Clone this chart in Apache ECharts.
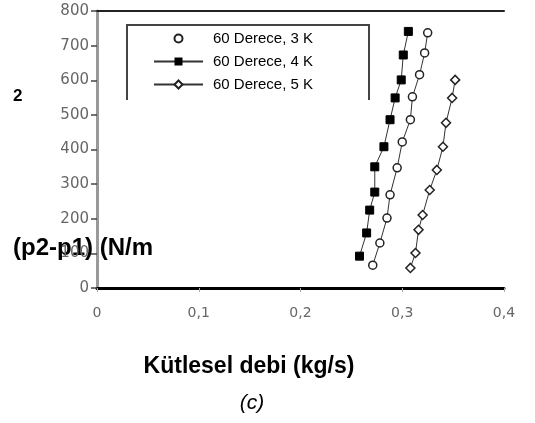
<!DOCTYPE html>
<html>
<head>
<meta charset="utf-8">
<script src="https://cdn.jsdelivr.net/npm/echarts@6/dist/echarts.min.js"></script>
<style>
  html, body { margin: 0; padding: 0; background: #fff; }
  #chart { width: 535px; height: 423px; }
</style>
</head>
<body>
<div id="chart"></div>
<script>
// values: [mass flow kg/s, pressure drop N/m2]
var seriesNames = ['60 Derece, 3 K', '60 Derece, 4 K', '60 Derece, 5 K'];

var data3K = [
    [0.271, 66], [0.278, 130], [0.285, 202], [0.288, 269], [0.295, 347],
    [0.300, 422], [0.308, 486], [0.310, 552], [0.317, 616], [0.322, 679], [0.325, 737]
];
var data4K = [
    [0.258, 92], [0.265, 159], [0.268, 225], [0.273, 277], [0.273, 350],
    [0.282, 408], [0.288, 486], [0.293, 549], [0.299, 601], [0.301, 673], [0.306, 741]
];
var data5K = [
    [0.308, 58], [0.313, 101], [0.316, 168], [0.320, 211], [0.327, 283],
    [0.334, 341], [0.340, 408], [0.343, 477], [0.349, 549], [0.352, 601]
];

var xTicks = { min: 0, max: 0.4, step: 0.1 };
var yTicks = { min: 0, max: 800, step: 100 };

var chart = echarts.init(document.getElementById('chart'));

var lineStyle = { color: '#333', width: 1 };
var labelFont = 'DejaVu Sans';

chart.setOption({
    backgroundColor: '#fff',
    animation: false,
    grid: { left: 97, right: 31, top: 11, bottom: 135 },
    legend: {
        orient: 'vertical',
        left: 148,
        top: 26,
        itemWidth: 49,
        itemHeight: 10,
        itemGap: 8,
        textStyle: { fontFamily: 'Liberation Sans', fontSize: 15, lineHeight: 15, color: '#000', padding: [0, 0, 0, 5] },
        data: [
            { name: seriesNames[0], lineStyle: { opacity: 0 } },
            { name: seriesNames[1] },
            { name: seriesNames[2] }
        ]
    },
    xAxis: [{
        type: 'value',
        min: xTicks.min,
        max: xTicks.max,
        interval: xTicks.step,
        splitLine: { show: false },
        axisLine: { onZero: false, lineStyle: { color: '#000', width: 3 } },
        axisTick: { length: 4, lineStyle: { color: '#aaa' } },
        axisLabel: {
            margin: 18,
            fontFamily: labelFont,
            fontSize: 14,
            color: '#666',
            formatter: function (v) { return String(+v.toFixed(1)).replace('.', ','); }
        }
    }, {
        type: 'value',
        position: 'top',
        min: xTicks.min,
        max: xTicks.max,
        splitLine: { show: false },
        axisLine: { show: true, onZero: false, lineStyle: { color: '#222', width: 2 } },
        axisTick: { show: false },
        axisLabel: { show: false }
    }],
    yAxis: {
        type: 'value',
        min: yTicks.min,
        max: yTicks.max,
        interval: yTicks.step,
        splitLine: { show: false },
        axisLine: { show: true, onZero: false, lineStyle: { color: '#999', width: 3 } },
        axisTick: { show: true, length: 6, lineStyle: { color: '#444', width: 1.5 } },
        axisLabel: { margin: 8, fontFamily: labelFont, fontSize: 15, color: '#666' }
    },
    series: [{
        name: seriesNames[0],
        type: 'line',
        data: data3K,
        symbol: 'circle',
        symbolSize: 8,
        itemStyle: { color: '#fff', borderColor: '#222', borderWidth: 1.5 },
        lineStyle: lineStyle
    }, {
        name: seriesNames[1],
        type: 'line',
        data: data4K,
        symbol: 'rect',
        symbolSize: 8,
        itemStyle: { color: '#000', borderColor: '#000' },
        lineStyle: lineStyle
    }, {
        name: seriesNames[2],
        type: 'line',
        data: data5K,
        symbol: 'diamond',
        symbolSize: 9,
        itemStyle: { color: '#fff', borderColor: '#222', borderWidth: 1.5 },
        lineStyle: lineStyle
    }],
    graphic: [{
        type: 'polyline',
        shape: { points: [[127, 100], [127, 25], [369, 25], [369, 100]] },
        style: { stroke: '#444', lineWidth: 2, fill: null }
    }, {
        type: 'text',
        x: 13, y: 248,
        style: { text: '(p2-p1) (N/m', font: 'bold 24px "Liberation Sans"', fill: '#000', verticalAlign: 'middle' }
    }, {
        type: 'text',
        x: 13, y: 96,
        style: { text: '2', font: 'bold 17px "Liberation Sans"', fill: '#000', verticalAlign: 'middle' }
    }, {
        type: 'text',
        x: 249, y: 367,
        style: { text: 'Kütlesel debi (kg/s)', font: 'bold 23px "Liberation Sans"', fill: '#000', align: 'center', verticalAlign: 'middle' }
    }, {
        type: 'text',
        x: 252, y: 403,
        style: { text: '(c)', font: 'italic 21px "Liberation Sans"', fill: '#000', align: 'center', verticalAlign: 'middle' }
    }]
});
</script>
</body>
</html>
